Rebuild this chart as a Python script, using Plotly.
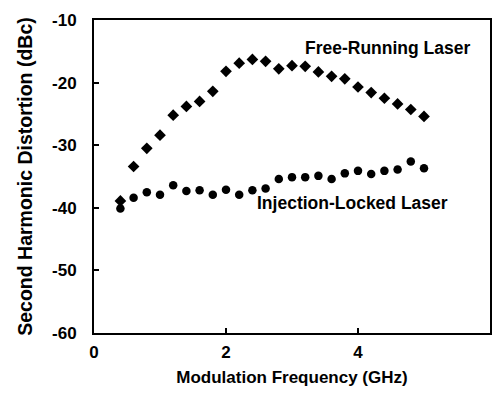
import plotly.graph_objects as go

freq = [0.4, 0.6, 0.8, 1.0, 1.2, 1.4, 1.6, 1.8, 2.0, 2.2, 2.4, 2.6,
        2.8, 3.0, 3.2, 3.4, 3.6, 3.8, 4.0, 4.2, 4.4, 4.6, 4.8, 5.0]
free_running = [-38.9, -33.4, -30.5, -28.4, -25.2, -23.8, -23.0, -21.4, -18.2, -16.9, -16.3, -16.6,
                -17.8, -17.3, -17.4, -18.3, -19.0, -19.4, -20.7, -21.6, -22.5, -23.4, -24.3, -25.4]
injection_locked = [-40.1, -38.4, -37.5, -37.9, -36.4, -37.3, -37.2, -37.9, -37.1, -37.9, -37.2, -36.9,
                    -35.4, -35.1, -35.1, -34.9, -35.4, -34.5, -34.1, -34.6, -34.1, -33.9, -32.6, -33.7]
x_ticks = [0, 2, 4, 6]
y_ticks = [-60, -50, -40, -30, -20, -10]

FONT = "Liberation Sans"

fig = go.Figure()
fig.add_trace(go.Scatter(x=freq, y=free_running, mode="markers",
                         marker=dict(symbol="diamond", size=9, color="black"),
                         name="Free-Running Laser"))
fig.add_trace(go.Scatter(x=freq, y=injection_locked, mode="markers",
                         marker=dict(symbol="circle", size=8.5, color="black"),
                         name="Injection-Locked Laser"))

fig.add_annotation(x=4.44, y=-14.5, text="<b>Free-Running Laser</b>", showarrow=False,
                   font=dict(family=FONT, size=17.5, color="black"))
fig.add_annotation(x=3.92, y=-39.2, text="<b>Injection-Locked Laser</b>", showarrow=False,
                   font=dict(family=FONT, size=17.5, color="black"))

axis_common = dict(showgrid=False, zeroline=False, showline=True, linecolor="black", linewidth=2,
                   mirror=True, ticks="inside", ticklen=5, tickwidth=2, tickcolor="black",
                   automargin=False,
                   tickfont=dict(family=FONT, size=17, color="black"))

fig.update_xaxes(range=[0, 6], tickvals=x_ticks, ticktext=[f"<b>{v}</b>" for v in x_ticks],
                 ticklabelstandoff=3,
                 title=dict(text="<b>Modulation Frequency (GHz)</b>", font=dict(family=FONT, size=17, color="black"),
                            standoff=10),
                 **axis_common)
fig.update_yaxes(range=[-60, -10], tickvals=y_ticks, ticktext=[f"<b>{v}</b>" for v in y_ticks],
                 ticklabelstandoff=12,
                 title=dict(text="<b>Second Harmonic Distortion (dBc)</b>", font=dict(family=FONT, size=19.5, color="black"),
                            standoff=14),
                 **axis_common)

fig.update_layout(width=492, height=396, margin=dict(l=94, r=2, t=20, b=63),
                  paper_bgcolor="white", plot_bgcolor="white", showlegend=False,
                  hovermode=False,
                  font=dict(family=FONT, color="black"))

fig.write_html("out.html", config={"displayModeBar": False},
               post_script="document.body.style.margin='0';document.body.style.overflow='hidden';")
